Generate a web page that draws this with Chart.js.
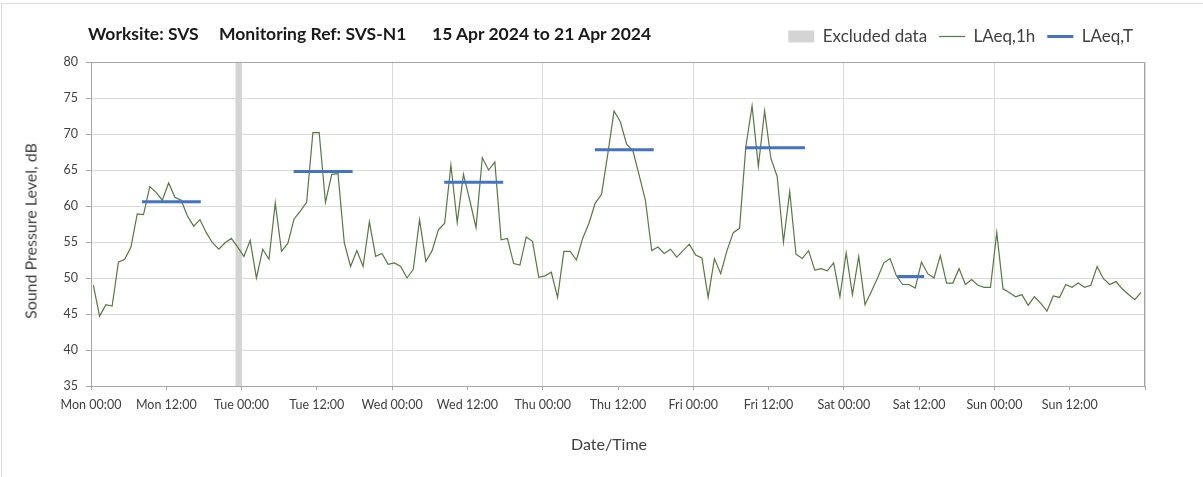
<!DOCTYPE html>
<html>
<head>
<meta charset="utf-8">
<title>SVS-N1 noise</title>
<script src="https://cdn.jsdelivr.net/npm/chart.js@4.4.1/dist/chart.umd.min.js"></script>
<style>
  body { margin: 0; background: #fff; }
  #wrap { position: relative; width: 1203px; height: 477px; overflow: hidden; }
  #frame { position: absolute; left: 1px; top: 3px; width: 1210px; height: 480px; border-left: 1px solid #d9d9d9; border-top: 1px solid #d9d9d9; }
  #chartBox { position: absolute; left: 0; top: 0; width: 1203px; height: 477px; }
  .title { position: absolute; top: 23px; font: bold 17.5px Lato, sans-serif; color: #1a1a1a; white-space: pre; }
  .axisTitle { position: absolute; font: 16px Lato, sans-serif; color: #404040; white-space: pre; }
  #xTitle { left: 609px; top: 443px; transform: translate(-50%, -50%); }
  #yTitle { left: 30px; top: 231px; transform: translate(-50%, -50%) rotate(-90deg); }
</style>
</head>
<body>
<div id="wrap">
  <div id="frame"></div>
  <div id="chartBox"><canvas id="noiseChart"></canvas></div>
  <span class="title" style="left:88px">Worksite: SVS</span>
  <span class="title" style="left:219px">Monitoring Ref: SVS-N1</span>
  <span class="title" style="left:432px">15 Apr 2024 to 21 Apr 2024</span>
  <span class="axisTitle" id="xTitle">Date/Time</span>
  <span class="axisTitle" id="yTitle">Sound Pressure Level, dB</span>
</div>
<script>
// hourly LAeq,1h, Mon 00:00 .. Sun 23:00
const hourlyLevels = [
  49.0, 44.7, 46.3, 46.1, 52.2, 52.6, 54.3, 58.9, 58.8, 62.7, 61.9, 60.8,
  63.2, 61.2, 60.8, 58.6, 57.2, 58.1, 56.3, 54.9, 54.0, 54.9, 55.5, 54.3,
  53.0, 55.2, 50.0, 54.0, 52.6, 60.4, 53.7, 54.8, 58.2, 59.3, 60.5, 70.2,
  70.2, 60.5, 64.4, 64.5, 54.9, 51.6, 53.8, 51.6, 57.8, 53.0, 53.4, 51.9,
  52.1, 51.6, 50.0, 51.2, 58.1, 52.3, 53.8, 56.7, 57.6, 65.7, 57.7, 64.4,
  60.8, 57.0, 66.7, 65.0, 66.1, 55.3, 55.5, 52.0, 51.8, 55.7, 55.1, 50.1,
  50.3, 50.8, 47.3, 53.7, 53.7, 52.5, 55.5, 57.6, 60.4, 61.6, 67.2, 73.2,
  71.7, 68.6, 67.7, 64.3, 60.8, 53.8, 54.3, 53.4, 54.0, 52.9, 53.8, 54.7,
  53.2, 52.8, 47.3, 52.7, 50.6, 53.8, 56.3, 56.9, 68.2, 73.9, 65.5, 73.2,
  66.6, 64.1, 55.0, 62.0, 53.3, 52.7, 53.8, 51.1, 51.3, 51.0, 52.1, 47.4,
  53.5, 47.7, 53.0, 46.3, 48.1, 50.0, 52.1, 52.7, 50.3, 49.1, 49.1, 48.6,
  52.2, 50.6, 50.0, 53.1, 49.3, 49.3, 51.3, 49.1, 49.8, 49.0, 48.7, 48.7,
  56.3, 48.5, 48.0, 47.4, 47.7, 46.2, 47.4, 46.5, 45.4, 47.5, 47.3, 49.1,
  48.7, 49.3, 48.7, 49.0, 51.6, 49.9, 49.1, 49.5, 48.5, 47.7, 47.0, 48.0
];
const sampleOffset = 0.37; // hours after the hour each sample is plotted

// LAeq,T per daytime period (hours from Mon 00:00)
const periodLevels = [60.6, 64.8, 63.3, 67.8, 68.1, 50.2];
const periodStart = [8.1, 32.3, 56.3, 80.3, 104.3, 128.5];
const periodEnd = [17.5, 41.7, 65.7, 89.7, 113.8, 132.8];

const excludedFrom = 23;
const excludedTo = 24;

const tickLabels = [
  'Mon 00:00', 'Mon 12:00', 'Tue 00:00', 'Tue 12:00', 'Wed 00:00', 'Wed 12:00',
  'Thu 00:00', 'Thu 12:00', 'Fri 00:00', 'Fri 12:00', 'Sat 00:00', 'Sat 12:00',
  'Sun 00:00', 'Sun 12:00'
];

const hourlyPoints = hourlyLevels.map((v, i) => ({ x: i + sampleOffset, y: v }));
const periodPoints = [];
periodLevels.forEach((v, i) => {
  periodPoints.push({ x: periodStart[i], y: v }, { x: periodEnd[i], y: v }, { x: periodEnd[i], y: null });
});

const axisGrey = '#a6a6a6';
const gridGrey = '#d9d9d9';
const tickFont = { family: 'Lato', size: 12.5 };

const plotFrame = {
  id: 'plotFrame',
  afterDatasetsDraw(chart) {
    const { ctx, chartArea: a } = chart;
    const top = Math.round(a.top) + 0.5;
    const right = Math.round(a.right) - 0.5;
    ctx.save();
    ctx.strokeStyle = axisGrey;
    ctx.lineWidth = 1;
    ctx.beginPath();
    ctx.moveTo(a.left, top);
    ctx.lineTo(right, top);
    ctx.lineTo(right, a.bottom);
    ctx.stroke();
    ctx.restore();
  }
};

const ctx = document.getElementById('noiseChart').getContext('2d');
new Chart(ctx, {
  type: 'line',
  data: {
    datasets: [
      {
        label: 'Excluded data',
        data: [{ x: excludedFrom, y: 80 }, { x: excludedTo, y: 80 }],
        backgroundColor: '#d4d4d4',
        borderColor: 'transparent',
        borderWidth: 0,
        pointRadius: 0,
        fill: 'start',
        order: 3
      },
      {
        label: 'LAeq,1h',
        data: hourlyPoints,
        borderColor: '#557a3f',
        borderWidth: 1.2,
        pointRadius: 0,
        tension: 0,
        order: 2
      },
      {
        label: 'LAeq,T',
        data: periodPoints,
        borderColor: '#4472c4',
        borderWidth: 3,
        pointRadius: 0,
        spanGaps: false,
        order: 1
      }
    ]
  },
  options: {
    responsive: true,
    maintainAspectRatio: false,
    animation: false,
    layout: { padding: { top: 16, left: 21, right: 58, bottom: 25 } },
    plugins: {
      tooltip: { enabled: false },
      legend: {
        display: true,
        position: 'top',
        align: 'end',
        labels: {
          usePointStyle: true,
          pointStyleWidth: 26,
          boxHeight: 12,
          padding: 12,
          color: '#404040',
          font: { family: 'Lato', size: 17 },
          generateLabels(chart) {
            return chart.data.datasets.map((ds, i) => ({
              text: ds.label,
              datasetIndex: i,
              fillStyle: i === 0 ? ds.backgroundColor : 'transparent',
              strokeStyle: i === 0 ? 'transparent' : ds.borderColor,
              lineWidth: i === 0 ? 0 : ds.borderWidth,
              pointStyle: i === 0 ? 'rect' : 'line',
              fontColor: '#404040',
              hidden: false
            }));
          }
        }
      }
    },
    scales: {
      x: {
        type: 'linear',
        min: 0,
        max: 168,
        afterBuildTicks(scale) {
          scale.ticks = tickLabels.map((_, i) => ({ value: i * 12 })).concat([{ value: 168 }]);
        },
        ticks: {
          autoSkip: false,
          maxRotation: 0,
          padding: 7,
          color: '#404040',
          font: tickFont,
          callback: (v) => tickLabels[v / 12] || ''
        },
        grid: {
          color: (c) => (c.tick && c.tick.value % 24 === 0 ? gridGrey : 'rgba(0,0,0,0)'),
          tickColor: axisGrey,
          tickLength: 4
        },
        border: { color: axisGrey },
        afterFit(scale) { scale.height = 66; }
      },
      xTop: {
        type: 'linear',
        position: 'top',
        display: true,
        grid: { display: false, drawTicks: false },
        border: { display: false },
        ticks: { display: false },
        afterFit(scale) { scale.height = 7; }
      },
      y: {
        min: 35,
        max: 80,
        ticks: { stepSize: 5, padding: 8, color: '#404040', font: tickFont },
        grid: { color: gridGrey, tickColor: axisGrey, tickLength: 5 },
        border: { color: axisGrey },
        afterFit(scale) { scale.width = 70; }
      }
    }
  },
  plugins: [plotFrame]
});
</script>
</body>
</html>
